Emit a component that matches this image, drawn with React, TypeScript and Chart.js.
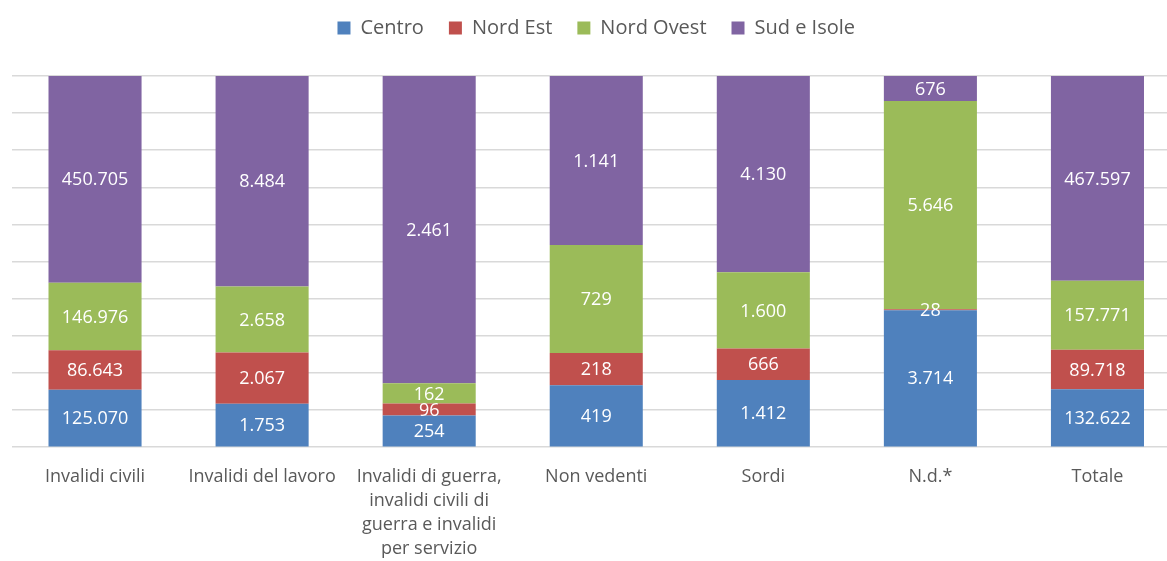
import React, { useEffect, useRef } from "react";
import { Chart, registerables } from "chart.js";

Chart.register(...registerables);

const categories: (string | string[])[] = [
  "Invalidi civili",
  "Invalidi del lavoro",
  ["Invalidi di guerra,", "invalidi civili di", "guerra e invalidi", "per servizio"],
  "Non vedenti",
  "Sordi",
  "N.d.*",
  "Totale",
];

const seriesNames = ["Centro", "Nord Est", "Nord Ovest", "Sud e Isole"];
const centro = [125070, 1753, 254, 419, 1412, 3714, 132622];
const nordEst = [86643, 2067, 96, 218, 666, 28, 89718];
const nordOvest = [146976, 2658, 162, 729, 1600, 5646, 157771];
const sudIsole = [450705, 8484, 2461, 1141, 4130, 676, 467597];
const colors = ["#4f81bd", "#c0504d", "#9bbb59", "#8064a2"];

const FONT = "'Open Sans', 'Noto Sans', sans-serif";

const fmt = (v: number) => v.toString().replace(/\B(?=(\d{3})+(?!\d))/g, ".");

export default function App() {
  const ref = useRef<HTMLCanvasElement | null>(null);

  useEffect(() => {
    if (!ref.current) return;
    const raw = [centro, nordEst, nordOvest, sudIsole];
    const totals = categories.map((_, i) => raw.reduce((s, arr) => s + arr[i], 0));

    const labelPlugin = {
      id: "segLabels",
      afterDatasetsDraw(chart: any) {
        const ctx = chart.ctx;
        ctx.save();
        ctx.font = `18px ${FONT}`;
        ctx.fillStyle = "#ffffff";
        ctx.textAlign = "center";
        ctx.textBaseline = "middle";
        chart.data.datasets.forEach((ds: any, di: number) => {
          const meta = chart.getDatasetMeta(di);
          meta.data.forEach((el: any, i: number) => {
            const y = (el.y + el.base) / 2;
            ctx.fillText(fmt(ds.raw[i]), el.x, y + 1);
          });
        });
        ctx.restore();
      },
    };

    const legendSpace = {
      id: "legendSpace",
      beforeLayout(chart: any) {
        const lg = chart.legend;
        if (lg && !lg._patched) {
          const orig = lg.fit;
          lg.fit = function () {
            orig.call(this);
            this.height += 28;
          };
          lg._patched = true;
        }
      },
    };

    const chart = new Chart(ref.current, {
      type: "bar",
      data: {
        labels: categories,
        datasets: raw.map((arr, k) => ({
          label: seriesNames[k],
          data: arr.map((v, i) => (v / totals[i]) * 100),
          raw: arr,
          backgroundColor: colors[k],
          borderWidth: 0,
          barPercentage: 0.557,
          categoryPercentage: 1,
        })) as any,
      },
      options: {
        responsive: false,
        animation: false,
        maintainAspectRatio: false,
        layout: { padding: { left: 11.5, right: 0, top: -7, bottom: 0 } },
        plugins: {
          tooltip: { enabled: false },
          legend: {
            position: "top",
            labels: {
              boxWidth: 13,
              boxHeight: 13,
              color: "#595959",
              font: { family: FONT, size: 20 },
              padding: 25,
            },
          },
        },
        scales: {
          x: {
            stacked: true,
            grid: { display: false },
            border: { display: false },
            ticks: {
              color: "#595959",
              font: { family: FONT, size: 18, lineHeight: 1.33 },
              maxRotation: 0,
              autoSkip: false,
              padding: 10,
            },
            afterFit(scale: any) {
              scale.height -= 10;
            },
          },
          y: {
            stacked: true,
            min: 0,
            max: 100,
            ticks: { display: false, stepSize: 10 },
            grid: { color: "#d9d9d9", lineWidth: 1.5, drawTicks: false },
            border: { display: false },
          },
        },
      },
      plugins: [labelPlugin, legendSpace],
    });
    return () => chart.destroy();
  }, []);

  return (
    <div style={{ position: "fixed", left: 0, top: 0, width: 1167, height: 561, overflow: "hidden", background: "#fff" }}>
      <canvas ref={ref} width={1181} height={561} style={{ display: "block" }} />
    </div>
  );
}
